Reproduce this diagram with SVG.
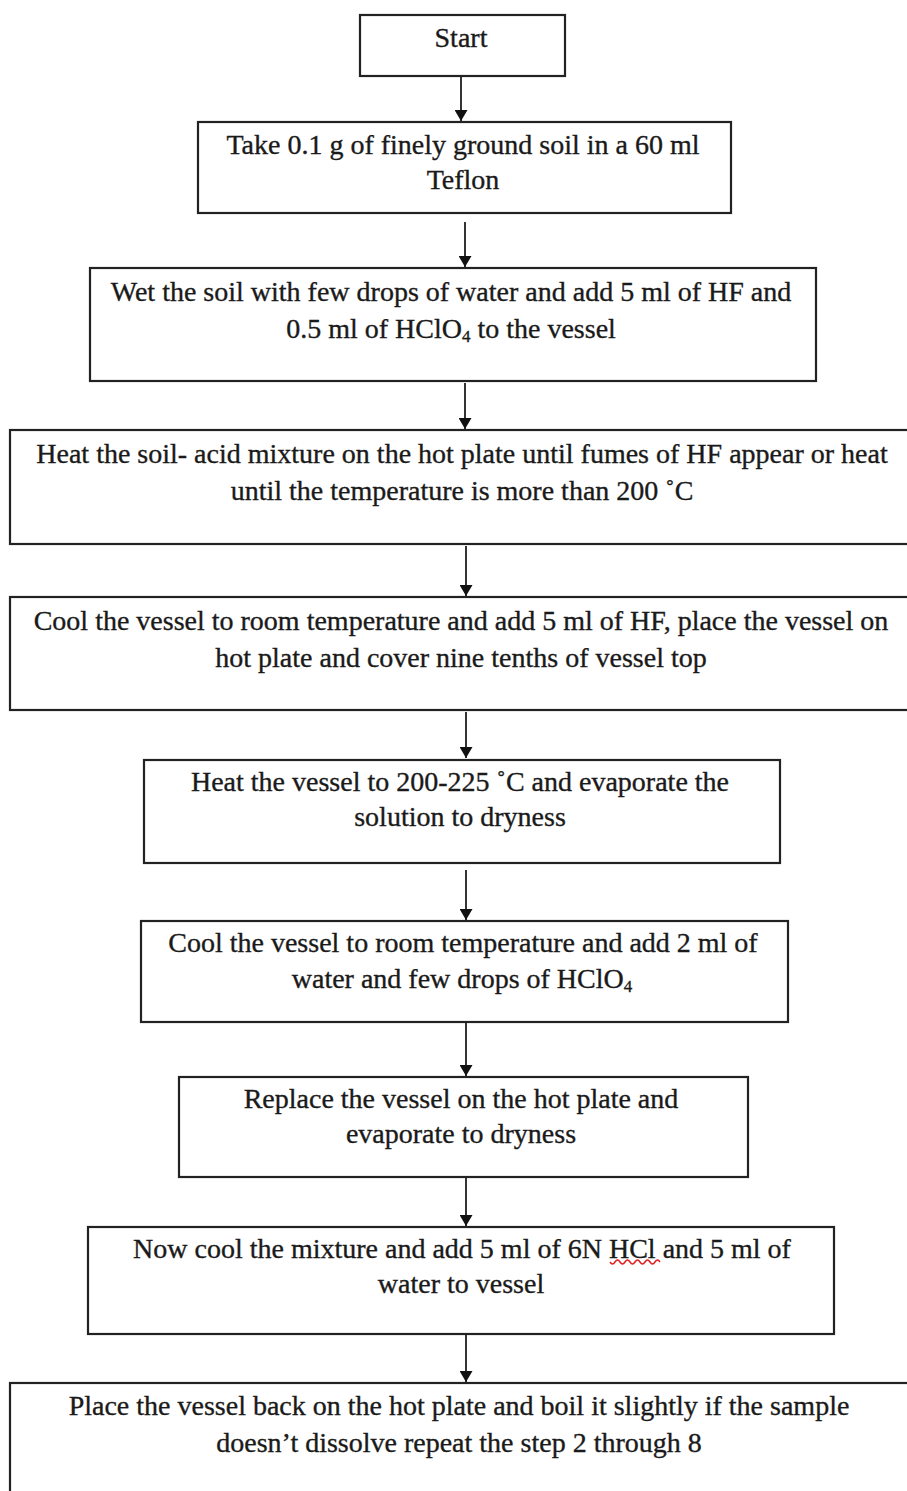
<svg xmlns="http://www.w3.org/2000/svg" width="907" height="1491" viewBox="0 0 907 1491">
<defs>
<style>
.box{fill:#fff;stroke:#222;stroke-width:2.2}
.t{font-family:"Liberation Serif","Times New Roman",serif;font-size:28px;fill:#1a1a1a;stroke:#1a1a1a;stroke-width:0.35;text-anchor:middle}
.sub{font-size:17px}
.c{stroke:#111;stroke-width:1.7;fill:none}
</style>
<marker id="ah" viewBox="0 0 11 13" refX="11" refY="6.5" markerWidth="11" markerHeight="13" markerUnits="userSpaceOnUse" orient="auto">
<path d="M0,0 L11,6.5 L0,13 Z" fill="#111"/>
</marker>
</defs>
<rect width="907" height="1491" fill="#fff"/>
<g id="connectors">
<line class="c" x1="461" y1="76" x2="461" y2="121" marker-end="url(#ah)"/>
<line class="c" x1="465" y1="222" x2="465" y2="267" marker-end="url(#ah)"/>
<line class="c" x1="465" y1="383" x2="465" y2="429" marker-end="url(#ah)"/>
<line class="c" x1="466" y1="546" x2="466" y2="596" marker-end="url(#ah)"/>
<line class="c" x1="466" y1="712" x2="466" y2="758" marker-end="url(#ah)"/>
<line class="c" x1="466" y1="870" x2="466" y2="920" marker-end="url(#ah)"/>
<line class="c" x1="466" y1="1023" x2="466" y2="1076" marker-end="url(#ah)"/>
<line class="c" x1="466" y1="1178" x2="466" y2="1226" marker-end="url(#ah)"/>
<line class="c" x1="466" y1="1335" x2="466" y2="1382" marker-end="url(#ah)"/>
</g>
<g id="n1">
<rect class="box" x="360" y="15" width="205" height="61"/>
<text class="t" x="461" y="47">Start</text>
</g>
<g id="n2">
<rect class="box" x="198" y="122" width="533" height="91"/>
<text class="t" x="463" y="154">Take 0.1 g of finely ground soil in a 60 ml</text>
<text class="t" x="463" y="189">Teflon</text>
</g>
<g id="n3">
<rect class="box" x="90" y="268" width="726" height="113"/>
<text class="t" x="451" y="301">Wet the soil with few drops of water and add 5 ml of HF and</text>
<text class="t" x="451" y="338">0.5 ml of HClO<tspan class="sub" dy="4">4</tspan><tspan dy="-4"> to the vessel</tspan></text>
</g>
<g id="n4">
<rect class="box" x="10" y="430" width="905" height="114"/>
<text class="t" x="462" y="463">Heat the soil- acid mixture on the hot plate until fumes of HF appear or heat</text>
<text class="t" x="462" y="500">until the temperature is more than 200 ˚C</text>
</g>
<g id="n5">
<rect class="box" x="10" y="597" width="905" height="113"/>
<text class="t" x="461" y="630">Cool the vessel to room temperature and add 5 ml of HF, place the vessel on</text>
<text class="t" x="461" y="667">hot plate and cover nine tenths of vessel top</text>
</g>
<g id="n6">
<rect class="box" x="144" y="760" width="636" height="103"/>
<text class="t" x="460" y="791">Heat the vessel to 200-225 ˚C and evaporate the</text>
<text class="t" x="460" y="826">solution to dryness</text>
</g>
<g id="n7">
<rect class="box" x="141" y="921" width="647" height="101"/>
<text class="t" x="463" y="952">Cool the vessel to room temperature and add 2 ml of</text>
<text class="t" x="462" y="988">water and few drops of HClO<tspan class="sub" dy="4">4</tspan></text>
</g>
<g id="n8">
<rect class="box" x="179" y="1077" width="569" height="100"/>
<text class="t" x="461" y="1108">Replace the vessel on the hot plate and</text>
<text class="t" x="461" y="1143">evaporate to dryness</text>
</g>
<g id="n9">
<rect class="box" x="88" y="1227" width="746" height="107"/>
<text class="t" x="462" y="1258">Now cool the mixture and add 5 ml of 6N HCl and 5 ml of</text>
<text class="t" x="461" y="1293">water to vessel</text>
<path d="M610,1262 q2.5,4 5,0 t5,0 t5,0 t5,0 t5,0 t5,0 t5,0 t5,0 t5,0 t5,0" fill="none" stroke="#e02020" stroke-width="1.5"/>
</g>
<g id="n10">
<rect class="box" x="10" y="1383" width="905" height="120"/>
<text class="t" x="459" y="1415">Place the vessel back on the hot plate and boil it slightly if the sample</text>
<text class="t" x="459" y="1452">doesn’t dissolve repeat the step 2 through 8</text>
</g>
</svg>
